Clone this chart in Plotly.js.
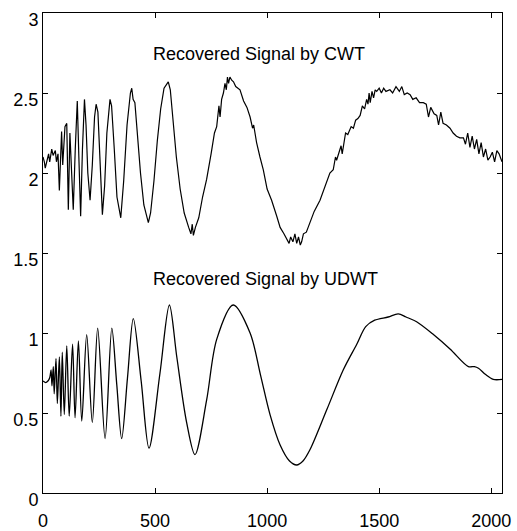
<!DOCTYPE html>
<html>
<head>
<meta charset="utf-8">
<script src="https://cdn.plot.ly/plotly-3.0.1.min.js"></script>
<style>html,body{margin:0;padding:0;background:#fff;}#chart{width:517px;height:531px;}</style>
</head>
<body>
<div id="chart"></div>
<script>
// Top series: Recovered Signal by CWT (noisy)
const cwtX = [0,6,10,18,25,30,39,45,55,60,67,73,79,83,88,93,98,106,113,120,127,135,144,153,160,168,176,185,192,200,210,220,230,237,245,255,265,275,285,299,306,318,330,347,360,375,390,396,402,410,420,435,450,470,480,495,510,525,540,552,559,568,580,595,612,630,650,660,666,671,680,695,712,730,750,765,775,785,790,797,805,812,818,823,828,834,842,850,860,879,895,910,924,935,940,953,968,983,1000,1020,1043,1058,1075,1088,1098,1105,1115,1124,1132,1140,1148,1154,1162,1175,1191,1210,1236,1255,1270,1280,1295,1305,1310,1320,1330,1335,1340,1350,1360,1375,1385,1395,1405,1415,1425,1435,1444,1450,1455,1460,1468,1475,1482,1489,1500,1510,1520,1530,1548,1560,1575,1590,1601,1612,1625,1638,1650,1665,1680,1697,1710,1720,1730,1745,1757,1765,1775,1785,1800,1816,1830,1845,1860,1876,1885,1895,1905,1915,1925,1935,1945,1955,1965,1975,1985,1995,2005,2015,2025,2035,2048];
const cwtY = [2.10,2.07,2.03,2.09,2.12,2.07,2.15,2.11,2.14,2.07,2.12,1.89,2.09,2.26,2.05,2.15,2.29,2.31,1.77,2.25,2.00,1.77,2.15,2.45,2.10,1.73,2.15,2.46,2.30,2.00,1.83,2.05,2.35,2.43,2.38,2.00,1.74,1.92,2.25,2.46,2.42,2.15,1.85,1.72,1.95,2.30,2.50,2.53,2.46,2.44,2.25,2.00,1.80,1.69,1.75,1.95,2.20,2.40,2.53,2.56,2.57,2.52,2.32,2.10,1.90,1.75,1.66,1.62,1.68,1.61,1.66,1.72,1.85,1.96,2.12,2.25,2.29,2.42,2.35,2.46,2.50,2.56,2.52,2.60,2.56,2.60,2.58,2.57,2.54,2.52,2.45,2.41,2.35,2.28,2.30,2.19,2.10,2.02,1.90,1.83,1.73,1.66,1.62,1.58,1.56,1.60,1.57,1.62,1.56,1.60,1.55,1.57,1.62,1.63,1.69,1.76,1.83,1.90,1.96,2.00,2.02,2.10,2.08,2.12,2.17,2.12,2.16,2.25,2.24,2.29,2.28,2.33,2.34,2.36,2.42,2.40,2.46,2.43,2.50,2.44,2.51,2.47,2.52,2.51,2.53,2.50,2.53,2.51,2.52,2.50,2.54,2.51,2.54,2.49,2.50,2.49,2.46,2.47,2.44,2.44,2.43,2.35,2.41,2.37,2.36,2.30,2.38,2.31,2.30,2.28,2.25,2.23,2.22,2.22,2.18,2.25,2.16,2.23,2.15,2.21,2.12,2.19,2.10,2.15,2.08,2.10,2.13,2.07,2.14,2.12,2.07];

// Bottom series: Recovered Signal by UDWT (smooth)
const udwtX = [0,12,22,30,36,40,46,50,58,64,73,80,86,95,106,117,132,143,158,173,195,220,244,277,307,329,351,377,403,438,473,522,564,597,641,678,730,775,849,924,970,1013,1058,1100,1132,1160,1191,1266,1340,1400,1440,1480,1540,1585,1620,1667,1742,1816,1898,1925,1943,1975,2009,2048];
const udwtY = [0.70,0.69,0.70,0.72,0.77,0.67,0.79,0.62,0.84,0.56,0.85,0.48,0.88,0.49,0.92,0.48,0.93,0.47,0.95,0.45,0.99,0.44,1.03,0.34,1.03,0.68,0.34,0.72,1.09,0.70,0.28,0.75,1.175,0.85,0.44,0.24,0.58,0.96,1.175,1.00,0.74,0.49,0.30,0.20,0.175,0.20,0.27,0.52,0.77,0.93,1.04,1.08,1.10,1.12,1.10,1.07,0.99,0.90,0.79,0.79,0.78,0.74,0.71,0.71];

const xTicks = [0,500,1000,1500,2000];
const labelCWT = "Recovered Signal by CWT";
const labelUDWT = "Recovered Signal by UDWT";

const FONT = "Arial, 'Liberation Sans', sans-serif";

const traces = [
  {x: cwtX, y: cwtY, type: 'scatter', mode: 'lines', line: {color: '#000', width: 1.2}, hoverinfo: 'none'},
  {x: udwtX, y: udwtY, type: 'scatter', mode: 'lines', line: {color: '#000', width: 1.3, shape: 'spline', smoothing: 0.9}, hoverinfo: 'none'}
];

const axisCommon = {
  showline: true, linecolor: '#000', linewidth: 1, mirror: 'allticks',
  ticks: 'inside', ticklen: 5, tickcolor: '#000', tickwidth: 1,
  showgrid: false, zeroline: false,
  tickfont: {family: FONT, size: 18, color: '#000'}
};

const layout = {
  width: 517, height: 531,
  margin: {l: 43, r: 15, t: 13, b: 38},
  paper_bgcolor: '#fff', plot_bgcolor: '#fff',
  showlegend: false,
  font: {family: FONT, color: '#000'},
  xaxis: Object.assign({}, axisCommon, {range: [0, 2048], tickvals: xTicks, ticklabelstandoff: 11}),
  yaxis: Object.assign({}, axisCommon, {range: [0, 3], dtick: 0.5, tick0: 0, ticklabelstandoff: 0, ticklabelshift: 7}),
  annotations: [
    {x: 964, y: 2.744, xref: 'x', yref: 'y', text: labelCWT, showarrow: false, font: {family: FONT, size: 18, color: '#000'}, xanchor: 'center', yanchor: 'middle'},
    {x: 991, y: 1.34, xref: 'x', yref: 'y', text: labelUDWT, showarrow: false, font: {family: FONT, size: 18, color: '#000'}, xanchor: 'center', yanchor: 'middle'}
  ]
};

Plotly.newPlot('chart', traces, layout, {staticPlot: true, displayModeBar: false});
</script>
</body>
</html>
